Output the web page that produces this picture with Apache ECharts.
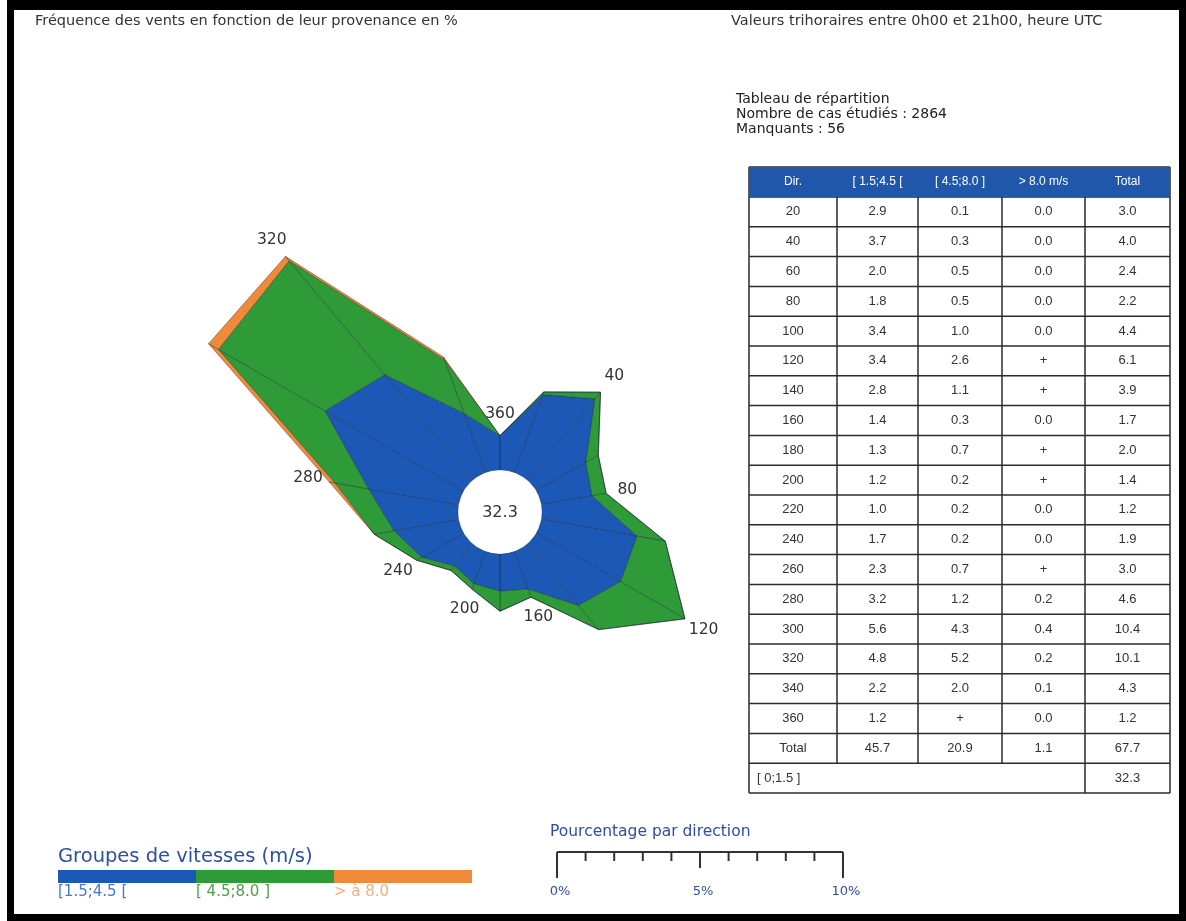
<!DOCTYPE html>
<html>
<head>
<meta charset="utf-8">
<script src="https://cdn.jsdelivr.net/npm/echarts@6/dist/echarts.min.js"></script>
<style>
  html, body { margin: 0; padding: 0; background: #fff; }
  #main { width: 1186px; height: 921px; }
</style>
</head>
<body>
<div id="main"></div>
<script>
// Wind directions (degrees the wind blows from)
const directions = [20, 40, 60, 80, 100, 120, 140, 160, 180, 200, 220, 240, 260, 280, 300, 320, 340, 360];
// Frequency (%) per speed group; '+' marks a trace (< 0.05 %)
const speedLow  = [2.9, 3.7, 2.0, 1.8, 3.4, 3.4, 2.8, 1.4, 1.3, 1.2, 1.0, 1.7, 2.3, 3.2, 5.6, 4.8, 2.2, 1.2]; // [1.5;4.5[
const speedMid  = [0.1, 0.3, 0.5, 0.5, 1.0, 2.6, 1.1, 0.3, 0.7, 0.2, 0.2, 0.2, 0.7, 1.2, 4.3, 5.2, 2.0, '+']; // [4.5;8.0]
const speedHigh = [0.0, 0.0, 0.0, 0.0, 0.0, '+', '+', 0.0, '+', '+', 0.0, 0.0, '+', 0.2, 0.4, 0.2, 0.1, 0.0]; // > 8.0
const dirTotals = [3.0, 4.0, 2.4, 2.2, 4.4, 6.1, 3.9, 1.7, 2.0, 1.4, 1.2, 1.9, 3.0, 4.6, 10.4, 10.1, 4.3, 1.2];
const groupTotals = [45.7, 20.9, 1.1, 67.7];
const calmPct = 32.3;
const labelledDirections = [40, 80, 120, 160, 200, 240, 280, 320, 360];
const headerLabels = ['Dir.', '[ 1.5;4.5 [', '[ 4.5;8.0 ]', '> 8.0 m/s', 'Total'];
const speedGroups = ['[1.5;4.5 [', '[ 4.5;8.0 ]', '> à 8.0'];
const scaleTicks = [0, 1, 2, 3, 4, 5, 6, 7, 8, 9, 10];
const scaleLabels = { 0: '0%', 5: '5%', 10: '10%' };

// ---- layout & style ----
const COLORS = ['#1c58b6', '#2f9a38', '#ee8a3a'];
const LABEL_COLORS = ['#4a78c9', '#4ea34a', '#f3b07c'];
const PX_PER_PCT = 28.6;      // radial scale of the rose
const HOLE_PX = 42;           // radius of the calm circle
const R_MAX = 12;
const R_MIN = -HOLE_PX / PX_PER_PCT;
const ROSE_CENTER = [500, 512];
const LABEL_GAP = 0.75;       // % beyond the outer vertex

const num = v => (typeof v === 'number' ? v : 0);
const fmt = v => (typeof v === 'number' ? v.toFixed(1) : v);
const n = directions.length;
const layers = [speedLow, speedMid, speedHigh].map(a => a.map(num));
// cumulative boundaries: bounds[0] = inner circle, bounds[k+1] = after layer k
const bounds = [directions.map(() => 0)];
layers.forEach((l, k) => bounds.push(l.map((v, i) => bounds[k][i] + v)));
const outer = bounds[bounds.length - 1];

const chart = echarts.init(document.getElementById('main'), null, { renderer: 'canvas' });

function roseItem(params, api) {
  const i = params.dataIndex;
  const j = (i + 1) % n;
  const ai = directions[i], aj = directions[j];
  const children = [];
  for (let k = 0; k < layers.length; k++) {
    const pts = [
      api.coord([bounds[k][i], ai]),
      api.coord([bounds[k + 1][i], ai]),
      api.coord([bounds[k + 1][j], aj]),
      api.coord([bounds[k][j], aj])
    ];
    children.push({
      type: 'polygon',
      shape: { points: pts },
      style: { fill: COLORS[k], stroke: 'rgba(15,25,35,0.5)', lineWidth: 0.7, lineJoin: 'round' }
    });
  }
  return { type: 'group', children };
}

function holeItem(params, api) {
  const c = api.coord([R_MIN, 0]);
  const e = api.coord([0, 0]);
  const r = Math.hypot(e[0] - c[0], e[1] - c[1]);
  return {
    type: 'group',
    children: [
      { type: 'circle', shape: { cx: c[0], cy: c[1], r: r }, style: { fill: '#ffffff', stroke: 'rgba(15,25,35,0.3)', lineWidth: 0.6 } },
      { type: 'text', x: c[0], y: c[1] + 1,
        style: { text: calmPct.toFixed(1), fill: '#333', font: '16px "DejaVu Sans", sans-serif',
                 align: 'center', verticalAlign: 'middle', textAlign: 'center', textVerticalAlign: 'middle' } }
    ]
  };
}

function dirLabelItem(params, api) {
  const d = api.value(1);
  const p = api.coord([api.value(0), d]);
  return {
    type: 'text', x: p[0], y: p[1],
    style: { text: String(d), fill: '#333', font: '15.5px "DejaVu Sans", sans-serif',
             align: 'center', verticalAlign: 'middle', textAlign: 'center', textVerticalAlign: 'middle' }
  };
}

// ---- graphics: frame, titles, table, legend, scale ----
const g = [];
const TXT = (x, y, text, font, fill, align, extra) => g.push(Object.assign({
  type: 'text', x, y, silent: true,
  style: { text, font, fill, align: align || 'left', textAlign: align || 'left', verticalAlign: 'middle', textVerticalAlign: 'middle' }
}, extra || {}));
const LINE = (x1, y1, x2, y2, stroke, w) => g.push({
  type: 'line', silent: true, shape: { x1, y1, x2, y2 }, style: { stroke, lineWidth: w }
});
const RECT = (x, y, w, h, fill, z) => g.push({ type: 'rect', silent: true, z: z || 0, shape: { x, y, width: w, height: h }, style: { fill } });

// black frame
RECT(7, 0, 1179, 921, '#000', -10);
RECT(14, 10, 1165, 904, '#fff', -9);

const TITLE = '14.5px "DejaVu Sans", sans-serif';
const INFO = '14px "DejaVu Sans", sans-serif';
TXT(35, 21, 'Fréquence des vents en fonction de leur provenance en %', TITLE, '#333');
TXT(731, 21, 'Valeurs trihoraires entre 0h00 et 21h00, heure UTC', TITLE, '#333');
TXT(736, 99, 'Tableau de répartition', INFO, '#222');
TXT(736, 114, 'Nombre de cas étudiés : 2864', INFO, '#222');
TXT(736, 129, 'Manquants : 56', INFO, '#222');

// table
const colEdges = [749, 837, 918, 1002, 1085, 1170];
const T_TOP = 167, HEAD_H = 30, ROW_H = 29.8;
const bodyTop = T_TOP + HEAD_H;
const nRows = n + 2;
const tBottom = bodyTop + nRows * ROW_H;
const totalBottom = bodyTop + (n + 1) * ROW_H;
const CELL = '13px "Liberation Sans", Arial, sans-serif';
const HEAD = '12px "Liberation Sans", Arial, sans-serif';
const colMid = c => (colEdges[c] + colEdges[c + 1]) / 2;

RECT(colEdges[0], T_TOP, colEdges[5] - colEdges[0], HEAD_H, '#2057ab', 1);
headerLabels.forEach((h, c) => TXT(colMid(c), T_TOP + HEAD_H / 2, h, HEAD, '#fff', 'center', { z: 3 }));

for (let r = 0; r < n; r++) {
  const y = bodyTop + r * ROW_H + ROW_H / 2;
  const cells = [String(directions[r]), fmt(speedLow[r]), fmt(speedMid[r]), fmt(speedHigh[r]), fmt(dirTotals[r])];
  cells.forEach((t, c) => TXT(colMid(c), y, t, CELL, '#333', 'center', { z: 3 }));
}
{
  const y = bodyTop + n * ROW_H + ROW_H / 2;
  ['Total'].concat(groupTotals.map(fmt)).forEach((t, c) => TXT(colMid(c), y, t, CELL, '#333', 'center', { z: 3 }));
  const y2 = y + ROW_H;
  TXT(colEdges[0] + 8, y2, '[ 0;1.5 ]', CELL, '#333', 'left', { z: 3 });
  TXT(colMid(4), y2, calmPct.toFixed(1), CELL, '#333', 'center', { z: 3 });
}
const GRID = '#2b2b2b';
LINE(colEdges[0], T_TOP, colEdges[5], T_TOP, GRID, 1.5);
for (let r = 0; r <= nRows; r++) {
  const y = bodyTop + r * ROW_H;
  LINE(colEdges[0], y, colEdges[5], y, GRID, 1.5);
}
colEdges.forEach((x, c) => {
  const bottom = (c >= 1 && c <= 3) ? totalBottom : tBottom;
  LINE(x, T_TOP, x, bottom, GRID, 1.5);
});

// speed group legend
const LEG_X = 58, LEG_W = 138, LEG_Y = 870;
TXT(LEG_X, 857, 'Groupes de vitesses (m/s)', '19.5px "DejaVu Sans", sans-serif', '#2f4f9e');
speedGroups.forEach((s, k) => {
  RECT(LEG_X + k * LEG_W, LEG_Y, LEG_W, 13, COLORS[k], 1);
  TXT(LEG_X + k * LEG_W, 892, s, '15px "DejaVu Sans", sans-serif', LABEL_COLORS[k]);
});

// percentage scale (same radial scale as the rose)
const SC_X = 557, SC_Y = 852;
TXT(550, 832, 'Pourcentage par direction', '15.5px "DejaVu Sans", sans-serif', '#2f4f9e');
LINE(SC_X, SC_Y, SC_X + 10 * PX_PER_PCT, SC_Y, '#333', 2);
scaleTicks.forEach(t => {
  const x = SC_X + t * PX_PER_PCT;
  const len = (t === 0 || t === 10) ? 26 : (t === 5 ? 16 : 9);
  LINE(x, SC_Y, x, SC_Y + len, '#333', 2);
  if (scaleLabels[t]) TXT(x + 3, 892, scaleLabels[t], '13px "DejaVu Sans", sans-serif', '#2f4f9e', 'center');
});

chart.setOption({
  animation: false,
  backgroundColor: '#fff',
  polar: { center: ROSE_CENTER, radius: (R_MAX - R_MIN) * PX_PER_PCT },
  angleAxis: {
    type: 'value', min: 0, max: 360, startAngle: 90, clockwise: true,
    axisLine: { show: false }, axisTick: { show: false }, axisLabel: { show: false }, splitLine: { show: false }
  },
  radiusAxis: {
    type: 'value', min: R_MIN, max: R_MAX,
    axisLine: { show: false }, axisTick: { show: false }, axisLabel: { show: false }, splitLine: { show: false }
  },
  graphic: { elements: g },
  series: [
    {
      type: 'custom', coordinateSystem: 'polar', z: 2, clip: false,
      renderItem: roseItem,
      data: directions.map((d, i) => [outer[i], d])
    },
    {
      type: 'custom', coordinateSystem: 'polar', z: 3, clip: false,
      renderItem: holeItem,
      data: [[0, 0]]
    },
    {
      type: 'custom', coordinateSystem: 'polar', z: 4, clip: false,
      renderItem: dirLabelItem,
      data: labelledDirections.map(d => [outer[directions.indexOf(d)] + LABEL_GAP, d])
    }
  ]
});
</script>
</body>
</html>
